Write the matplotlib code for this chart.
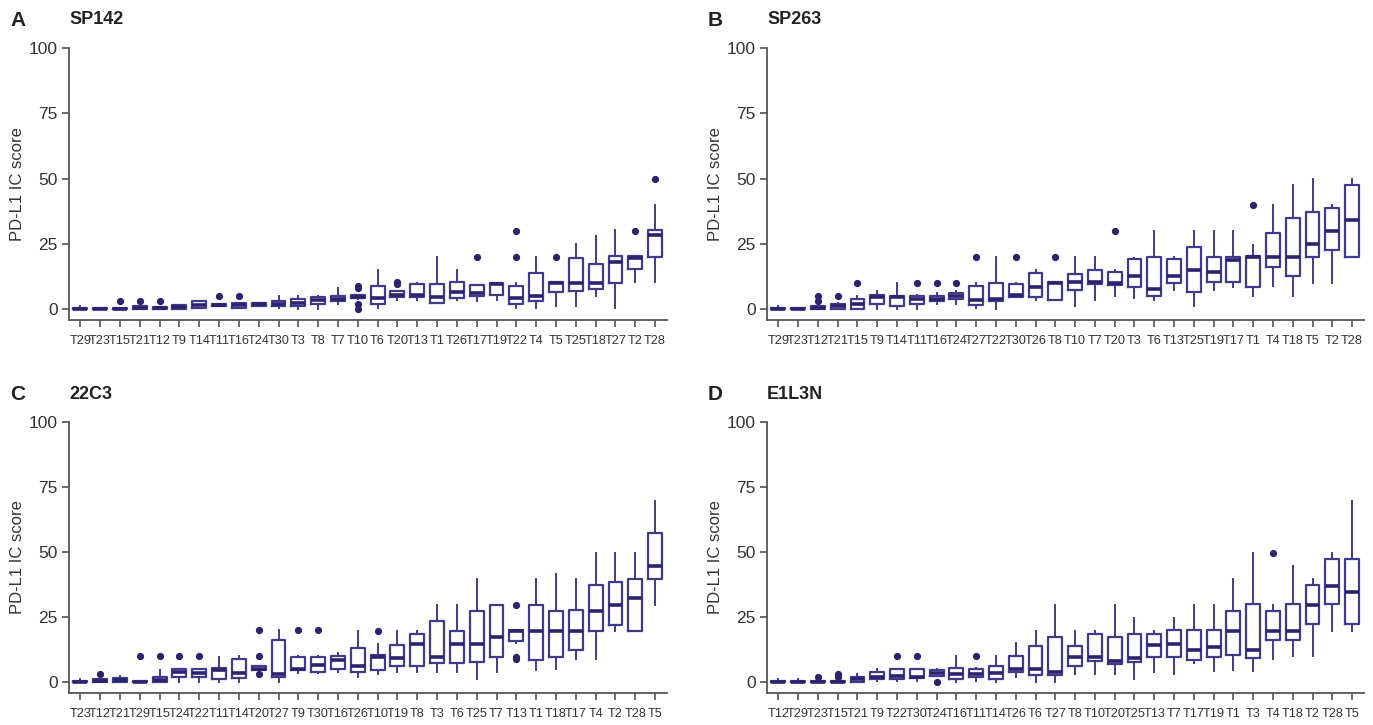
import matplotlib
matplotlib.use("Agg")
import matplotlib.pyplot as plt

# ---------------- data ----------------
a_labels = ["T29","T23","T15","T21","T12","T9","T14","T11","T16","T24","T30","T3","T8","T7","T10",
            "T6","T20","T13","T1","T26","T17","T19","T22","T4","T5","T25","T18","T27","T2","T28"]
a_whislo = [0,0,0,0,0,0,0.3,1,0.5,1,0.5,0,0,2,4, 0.3,3.4,3.4,2.3,3.4,3.2,3.4,0.3,0.3,1.3,1.3,5.1,0.3,10.3,10.2]
a_q1     = [0,0,0,0,0,0,0.5,1,0.5,1,1,1,2,3,4.2, 1.9,4.5,4.5,2.3,4.3,5.1,5.5,1.9,3.2,6.4,6.9,7.7,9.9,15.2,20]
a_med    = [0,0,0,0.5,0.5,0.8,1.5,1.5,1.5,2,2,2.5,3.5,4,4.8, 4.2,5.4,5.2,4.7,6.6,6,9.4,4.3,5.1,9.8,10.1,10.1,18,19.6,28.4]
a_q3     = [0.5,0.5,0.5,1,0.8,1.5,3,2,2.5,2.5,3,4,4.5,5,5.5, 8.8,6.8,9.4,9.7,10.2,9.2,10.1,8.9,13.8,10.5,19.6,17.3,20.2,20.4,30.1]
a_whishi = [1,0.5,0.5,1,0.8,1.5,3,2,2.5,2.5,5,5,5,8,5.5, 14.9,7,9.8,19.9,15,9.2,10.1,9.8,20,10.5,24.9,27.8,30.1,20.4,40]
a_fliers = [[],[],[3],[3],[3],[],[],[5],[5],[],[],[],[],[],[0,2,8,9],
            [],[9.5,10.3],[],[],[],[20],[],[20,30],[],[20],[],[],[],[30],[50]]

b_labels = ["T29","T23","T12","T21","T15","T9","T14","T11","T16","T24","T27","T22","T30","T26","T8",
            "T10","T7","T20","T3","T6","T13","T25","T19","T17","T1","T4","T18","T5","T2","T28"]
b_whislo = [0,0,0,0,0,0,0,0,2,2,0.5,0,4.5,3.3,3.6, 1.3,3.3,5.1,4.1,3.3,7.3,1.3,7.3,8.3,5.1,9,5.1,10.1,10.1,20]
b_q1     = [0,0,0,0,0,2,1,2,3,4,1.5,3,4.5,4.6,3.6, 7.3,9.4,9.2,8.5,5,9.9,6.4,10.2,10.2,8.5,16.1,12.5,20,22.6,20]
b_med    = [0,0,0.3,1,2,4.5,4.5,4,4,5,3.5,4,5.5,8.5,9.9, 10.2,10.3,9.9,12.5,7.8,12.5,15,14,18.8,19.9,20,20,25,30,34]
b_q3     = [0.5,0.5,1,2,4,5.3,5,5,5,6,9,10,9.5,13.8,10.5, 13.6,15,14,19,20,19,23.7,20,20,20.4,29,35,37.2,38.8,47.6]
b_whishi = [1,0.5,1,2.5,5,7,10,5.5,6,7,10,20,10,15,10.5, 19.9,20,14.8,19.6,29.8,19.8,29.8,30,30,24.7,40,47.6,49.7,39.7,49.7]
b_fliers = [[],[],[3,5],[5],[10],[],[],[10],[10],[10],[20],[],[20],[],[20],
            [],[],[30],[],[],[],[],[],[],[40],[],[],[],[],[]]

c_labels = ["T23","T12","T21","T29","T15","T24","T22","T11","T14","T20","T27","T9","T30","T16","T26",
            "T10","T19","T8","T3","T6","T25","T7","T13","T1","T18","T17","T4","T2","T28","T5"]
c_whislo = [0,0,0,0,0,0,0,0,0,4.5,0,3.5,3.5,4,2, 3.1,4,4,4,4,1,4,15,4.7,5,8.9,8.9,19.8,19.8,29.6]
c_q1     = [0,0,0,0,0,2,2,1,1.5,4.5,2,4.5,4,5,3.8, 4.7,6.1,6.1,7.4,7.4,7.9,9.7,15.8,8.3,9.7,12.3,19.8,22.1,19.8,39.6]
c_med    = [0,0.5,0.8,0,0.8,4,3.3,4.5,3.5,5,3,5,6.5,8.5,6.1, 9.7,9.2,14.7,9.7,14.7,14.7,17.4,19.8,19.8,19.8,19.8,27.2,29.6,32.2,44.7]
c_q3     = [0.5,1,1.5,0.3,2,5,5,5.5,9,6,16,9.5,9.5,10,13, 10.3,14.2,18.5,23.5,19.8,27.2,29.8,20,29.8,27.2,27.7,37.3,38.4,39.7,57.2]
c_whishi = [1,1,2.5,0.3,4.5,5,5,9.7,10,6,20,10,10,11,19.5, 14.7,19.5,19.5,29.6,29.6,39.6,29.8,20,39.6,41.4,39.6,49.6,49.6,49.6,69.5]
c_fliers = [[],[3],[],[10],[10],[10],[10],[],[],[3,10,20],[],[20],[20],[],[],
            [19.8],[],[],[],[],[],[],[8.7,9.7,29.6],[],[],[],[],[],[],[]]

d_labels = ["T12","T29","T23","T15","T21","T9","T22","T30","T24","T16","T11","T14","T26","T6","T27",
            "T8","T10","T20","T25","T13","T7","T17","T19","T1","T3","T4","T18","T2","T28","T5"]
d_whislo = [0,0,0,0,0,0.5,0.5,0.5,2.5,0,0.5,0,2,0.1,0, 3,3,3,1.1,4,3,7.3,4.2,4.7,4.2,8.9,10,10,19.8,19.8]
d_q1     = [0,0,0,0,0,1,1,1.5,2.5,1,2,1,4,2.8,2.8, 6.1,8,6.8,7.8,9.8,9.8,8.3,9.8,10.5,9.1,16,16,22.2,29.9,22.3]
d_med    = [0,0,0,0,1,2,2.5,2,3.5,3,3,3.5,5,4.9,4, 9.8,9.8,8,9.2,14.3,14.8,12.3,13.5,19.8,12.3,19.8,19.8,29.6,36.8,34.6]
d_q3     = [0.5,0.5,0.5,0.5,2,4,5,5,4.5,5.5,5,6,10,13.7,17.5, 13.8,18.6,17.5,18.6,18.6,19.9,19.9,19.9,27.5,29.9,27.2,29.9,37.3,47.3,47.3]
d_whishi = [1,1,0.5,0.5,3,5,5,5,5,10,5.5,10,15,19.8,29.6, 19.8,19.5,29.6,24.6,19.8,24.6,29.6,29.6,39.6,49.7,29.6,44.6,39.6,49.6,69.5]
d_fliers = [[],[],[2],[2,3],[],[],[10],[10],[0],[],[10],[],[],[],[],
            [],[],[],[],[],[],[],[],[],[],[49.8],[],[],[],[]]

panels = [
    ("A", "SP142", a_labels, a_whislo, a_q1, a_med, a_q3, a_whishi, a_fliers),
    ("B", "SP263", b_labels, b_whislo, b_q1, b_med, b_q3, b_whishi, b_fliers),
    ("C", "22C3", c_labels, c_whislo, c_q1, c_med, c_q3, c_whishi, c_fliers),
    ("D", "E1L3N", d_labels, d_whislo, d_q1, d_med, d_q3, d_whishi, d_fliers),
]
y_ticks = [0, 25, 50, 75, 100]

# ---------------- style ----------------
W, H = 1373, 725
fig = plt.figure(figsize=(W / 100, H / 100), dpi=100)
box_col = "#3f3a8c"
med_col = "#2b236f"
txt_col = "#333333"

lefts = [69, 767, 69, 767]
rights = [667, 1364, 667, 1364]
bottoms = [320, 320, 693, 693]
tops = [48, 48, 422, 422]

for i, (letter, name, labels, wlo, q1, med, q3, whi, fl) in enumerate(panels):
    l, r, b, t = lefts[i], rights[i], bottoms[i], tops[i]
    ax = fig.add_axes([l / W, 1 - b / H, (r - l) / W, (b - t) / H])
    stats = []
    for k in range(len(labels)):
        stats.append(dict(whislo=wlo[k], q1=q1[k], med=med[k], q3=q3[k],
                          whishi=whi[k], fliers=fl[k], label=labels[k]))
    pos = list(range(1, len(labels) + 1))
    ax.bxp(stats, positions=pos, widths=0.7, showcaps=False, patch_artist=False,
           boxprops=dict(color=box_col, linewidth=1.6),
           whiskerprops=dict(color=box_col, linewidth=1.4),
           medianprops=dict(color=med_col, linewidth=2.6),
           flierprops=dict(marker="o", markersize=4.2, markerfacecolor=med_col,
                           markeredgecolor=med_col, linestyle="none"))
    ax.set_xlim(0.43, len(labels) + 0.6)
    ax.set_ylim(-4.2, 100)
    ax.set_yticks(y_ticks)
    ax.set_yticklabels([str(v) for v in y_ticks], fontsize=12.5, color=txt_col,
                       family=["Liberation Sans", "DejaVu Sans"])
    ax.set_xticks(pos)
    ax.set_xticklabels(labels, fontsize=9.2, color=txt_col,
                       family=["Liberation Sans Narrow", "Liberation Sans", "DejaVu Sans"])
    ax.tick_params(axis="x", length=5, width=1.1, color="#444444", pad=6)
    ax.tick_params(axis="y", length=5, width=1.1, color="#444444", pad=3)
    for s in ["top", "right"]:
        ax.spines[s].set_visible(False)
    for s in ["left", "bottom"]:
        ax.spines[s].set_color("#555555")
        ax.spines[s].set_linewidth(1.3)
    ax.set_ylabel("PD-L1 IC score", fontsize=12, color=txt_col,
                  family=["Liberation Sans", "DejaVu Sans"], labelpad=3)
    # panel letter and antibody name
    fig.text((l - 59) / W, 1 - (t - 28) / H, letter, fontsize=15, fontweight="bold",
             color="#222222", va="center", ha="left", family=["Liberation Sans", "DejaVu Sans"])
    fig.text(l / W, 1 - (t - 28) / H, name, fontsize=13, fontweight="bold",
             color="#222222", va="center", ha="left", family=["Liberation Sans", "DejaVu Sans"])

fig.savefig("out.png", dpi=100, facecolor="white")
